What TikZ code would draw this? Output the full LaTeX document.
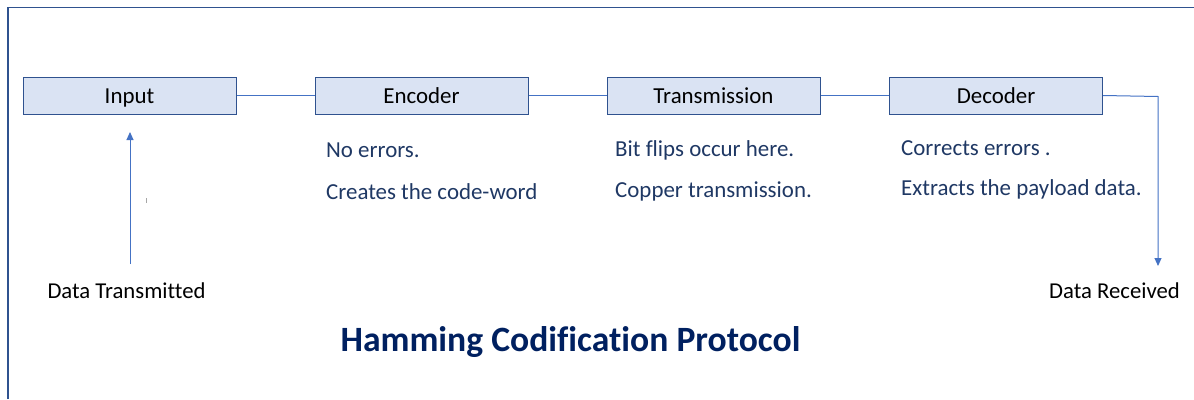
\documentclass[tikz,border=0pt]{standalone}
\usepackage{fontspec}
\setmainfont[Ligatures={NoCommon,NoRequired,NoContextual}]{Carlito}
\usetikzlibrary{arrows.meta}
\definecolor{boxfill}{HTML}{DAE3F3}
\definecolor{boxline}{HTML}{2F528F}
\definecolor{conn}{HTML}{4472C4}
\definecolor{desc}{HTML}{1F3864}
\definecolor{ttl}{HTML}{002060}
\tikzset{
  stage/.style={draw=boxline, fill=boxfill, line width=1pt, minimum width=213pt, minimum height=37pt, inner sep=0pt, text height=16pt, text depth=0.5pt, font=\fontsize{22.9}{27}\selectfont, text=black},
  link/.style={draw=conn, line width=1pt},
  arrowlink/.style={link, -{Triangle[length=8pt,width=7pt]}},
  note/.style={anchor=west, inner sep=0pt, text=desc, font=\fontsize{22.9}{27}\selectfont},
  lbl/.style={anchor=center, inner sep=0pt, text=black, font=\fontsize{22.7}{27}\selectfont}
}
\begin{document}
\begin{tikzpicture}[x=1pt,y=-1pt]
\useasboundingbox (0,0) rectangle (1194,399);
% frame (left and top edges visible)
\draw[draw=boxline, line width=1.6pt] (8,399) -- (8,7.5) -- (1194,7.5);
% stages
\node[stage] (input) at (129.5,95.5) {Input};
\node[stage] (encoder) at (421.5,95.5) {Encoder};
\node[stage] (trans) at (713.5,95.5) {Transmission};
\node[stage] (decoder) at (996,95.5) {Decoder};
% connectors
\draw[link] (input.east) -- (encoder.west);
\draw[link] (encoder.east) -- (trans.west);
\draw[link] (trans.east) -- (decoder.west);
\coordinate (rcorner) at (1158,96.5);
\coordinate (rend) at (1158,266);
\draw[arrowlink] (decoder.east) -- (rcorner) -- (rend);
\coordinate (lstart) at (130,264);
\coordinate (lend) at (130,132);
\draw[arrowlink] (lstart) -- (lend);
% small stray mark
\draw[gray!70, line width=1pt] (146.5,198) -- (146.5,202.5);
% end labels
\node[lbl] (dtx) at (126.5,291) {Data Transmitted};
\node[lbl] (drx) at (1114.5,291) {Data Received};
% descriptions
\node[note] (e1) at (326,150.5) {No errors.};
\node[note] (e2) at (326,191.5) {Creates the code-word};
\node[note] (t1) at (615,150.5) {Bit flips occur here.};
\node[note] (t2) at (615,191.5) {Copper transmission.};
\node[note] (d1) at (901,148.5) {Corrects errors .};
\node[note] (d2) at (901,189.5) {Extracts the payload data.};
% title
\node[anchor=center, inner sep=0pt, text=ttl, font=\fontsize{35.6}{42}\selectfont\bfseries] (title) at (570.5,342) {Hamming Codification Protocol};
\end{tikzpicture}
\end{document}
